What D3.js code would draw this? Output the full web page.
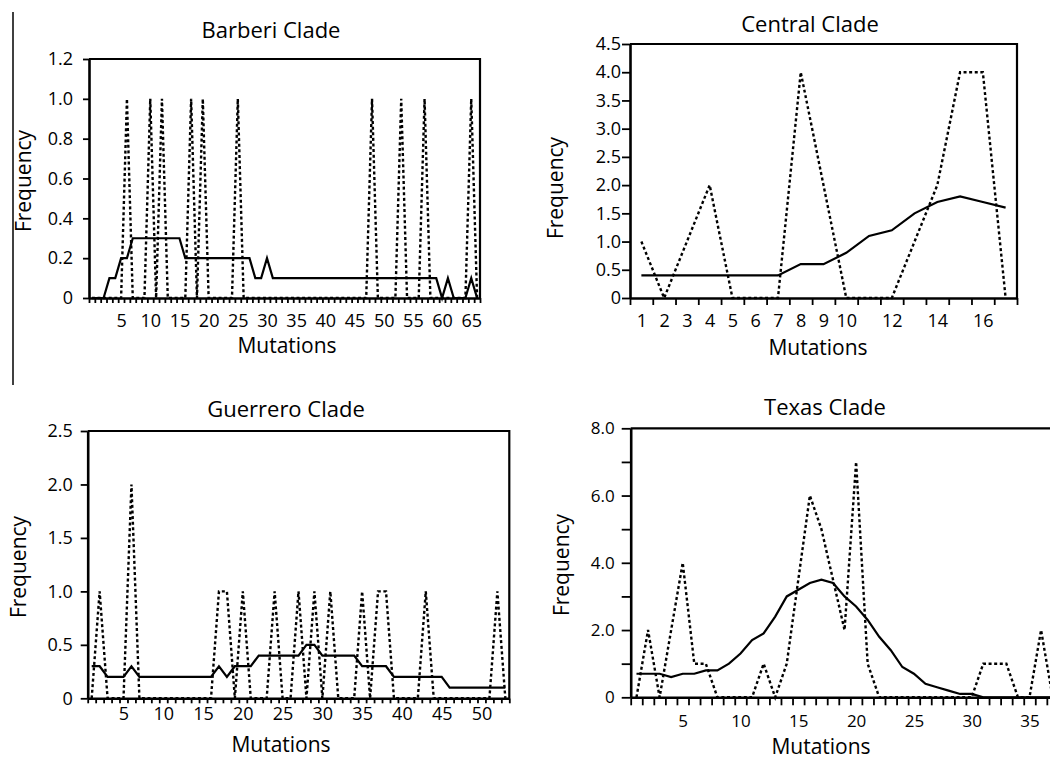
<!DOCTYPE html>
<html>
<head>
<meta charset="utf-8">
<title>Mutation frequency by clade</title>
<script src="https://cdnjs.cloudflare.com/ajax/libs/d3/7.8.5/d3.min.js"></script>
<style>
  body { margin: 0; background: #fff; }
  svg text { font-family: "Open Sans", sans-serif; fill: #000; }
</style>
</head>
<body>
<svg width="1050" height="761"></svg>
<script>

// ---- data (one value per mutation count, first category given separately) ----

// Barberi: mutations 0..66
const barberiFirst = 0;
const barberiObserved = [
  0, 0, 0, 0, 0, 0, 1, 0, 0, 0,
  1, 0, 1, 0, 0, 0, 0, 1, 0, 1,
  0, 0, 0, 0, 0, 1, 0, 0, 0, 0,
  0, 0, 0, 0, 0, 0, 0, 0, 0, 0,
  0, 0, 0, 0, 0, 0, 0, 0, 1, 0,
  0, 0, 0, 1, 0, 0, 0, 1, 0, 0,
  0, 0, 0, 0, 0, 1, 0
];
const barberiExpected = [
  0, 0, 0, 0.1, 0.1, 0.2, 0.2, 0.3, 0.3, 0.3,
  0.3, 0.3, 0.3, 0.3, 0.3, 0.3, 0.2, 0.2, 0.2, 0.2,
  0.2, 0.2, 0.2, 0.2, 0.2, 0.2, 0.2, 0.2, 0.1, 0.1,
  0.2, 0.1, 0.1, 0.1, 0.1, 0.1, 0.1, 0.1, 0.1, 0.1,
  0.1, 0.1, 0.1, 0.1, 0.1, 0.1, 0.1, 0.1, 0.1, 0.1,
  0.1, 0.1, 0.1, 0.1, 0.1, 0.1, 0.1, 0.1, 0.1, 0.1,
  0, 0.1, 0, 0, 0, 0.1, 0
];
const barberiXLabels = [5, 10, 15, 20, 25, 30, 35, 40, 45, 50, 55, 60, 65];
const barberiYTicks = [0, 0.2, 0.4, 0.6, 0.8, 1.0, 1.2];

// Central: mutations 1..17
const centralFirst = 1;
const centralObserved = [1, 0, 1, 2, 0, 0, 0, 4, 2, 0, 0, 0, 1, 2, 4, 4, 0];
const centralExpected = [0.4, 0.4, 0.4, 0.4, 0.4, 0.4, 0.4, 0.6, 0.6, 0.8, 1.1, 1.2, 1.5, 1.7, 1.8, 1.7, 1.6];
const centralXLabels = [1, 2, 3, 4, 5, 6, 7, 8, 9, 10, 12, 14, 16];
const centralYTicks = [0, 0.5, 1.0, 1.5, 2.0, 2.5, 3.0, 3.5, 4.0, 4.5];

// Guerrero: mutations 1..53
const guerreroFirst = 1;
const guerreroObserved = [
  0, 1, 0, 0, 0, 2, 0, 0, 0, 0,
  0, 0, 0, 0, 0, 0, 1, 1, 0, 1,
  0, 0, 0, 1, 0, 0, 1, 0, 1, 0,
  1, 0, 0, 0, 1, 0, 1, 1, 0, 0,
  0, 0, 1, 0, 0, 0, 0, 0, 0, 0,
  0, 1, 0
];
const guerreroExpected = [
  0.3, 0.3, 0.2, 0.2, 0.2, 0.3, 0.2, 0.2, 0.2, 0.2,
  0.2, 0.2, 0.2, 0.2, 0.2, 0.2, 0.3, 0.2, 0.3, 0.3,
  0.3, 0.4, 0.4, 0.4, 0.4, 0.4, 0.4, 0.5, 0.5, 0.4,
  0.4, 0.4, 0.4, 0.4, 0.3, 0.3, 0.3, 0.3, 0.2, 0.2,
  0.2, 0.2, 0.2, 0.2, 0.2, 0.1, 0.1, 0.1, 0.1, 0.1,
  0.1, 0.1, 0.1
];
const guerreroXLabels = [5, 10, 15, 20, 25, 30, 35, 40, 45, 50];
const guerreroYTicks = [0, 0.5, 1.0, 1.5, 2.0, 2.5];

// Texas: mutations 1..37 (picture is cut at the right edge)
const texasFirst = 1;
const texasObserved = [
  0, 2, 0, 2, 4, 1, 1, 0, 0, 0,
  0, 1, 0, 1, 3.5, 6, 5, 3.5, 2, 7,
  1, 0, 0, 0, 0, 0, 0, 0, 0, 0,
  1, 1, 1, 0, 0, 2, 0
];
const texasExpected = [
  0.7, 0.7, 0.7, 0.6, 0.7, 0.7, 0.8, 0.8, 1.0, 1.3,
  1.7, 1.9, 2.4, 3.0, 3.2, 3.4, 3.5, 3.4, 3.0, 2.7,
  2.3, 1.8, 1.4, 0.9, 0.7, 0.4, 0.3, 0.2, 0.1, 0.1,
  0, 0, 0, 0, 0, 0, 0
];
const texasXLabels = [5, 10, 15, 20, 25, 30, 35];
const texasYTicks = [0, 1, 2, 3, 4, 5, 6, 7, 8];

// ---- drawing ----

let svg = d3.select('svg');

// stray rule in the left margin of the scan
svg.append('line')
  .attr('x1', 13).attr('x2', 13).attr('y1', 12).attr('y2', 385)
  .attr('stroke', '#000').attr('stroke-width', 1.5);

let oneDec = d => d === 0 ? '0' : d.toFixed(1);

let drawPanel = (p) => {
  let n = p.observed.length;
  let x = d3.scaleLinear()
    .domain([p.first - 0.5, p.first + n - 0.5])
    .range([p.left, p.right]);
  let y = d3.scaleLinear().domain([0, p.yMax]).range([p.bottom, p.top]);

  let g = svg.append('g');

  // frame (top + right)
  g.append('path')
    .attr('d', 'M' + p.left + ',' + p.top + 'H' + p.right + 'V' + p.bottom)
    .attr('fill', 'none').attr('stroke', '#000').attr('stroke-width', 2.2);

  let line = d3.line()
    .x((d, i) => x(p.first + i))
    .y(d => y(d));

  g.append('path').datum(p.observed)
    .attr('d', line)
    .attr('fill', 'none').attr('stroke', '#000')
    .attr('stroke-width', 2.4).attr('stroke-dasharray', '3,2.6');

  g.append('path').datum(p.expected)
    .attr('d', line)
    .attr('fill', 'none').attr('stroke', '#000')
    .attr('stroke-width', 2.2).attr('stroke-linejoin', 'miter');

  // x axis: a tick between every category
  let bounds = d3.range(n + 1).map(i => p.first - 0.5 + i);
  let xa = g.append('g').attr('transform', 'translate(0,' + p.bottom + ')')
    .call(d3.axisBottom(x).tickValues(bounds).tickFormat('').tickSize(p.xTick).tickSizeOuter(0));
  xa.select('.domain').attr('stroke-width', 2.6);
  xa.selectAll('.tick line').attr('stroke-width', 1.8);

  let xl = g.append('g').attr('transform', 'translate(0,' + p.bottom + ')')
    .call(d3.axisBottom(x).tickValues(p.xLabels).tickSize(0).tickPadding(p.xPad));
  xl.select('.domain').remove();
  xl.attr('font-family', null).attr('font-size', p.tickFont);

  // y axis
  let ya = g.append('g').attr('transform', 'translate(' + p.left + ',0)')
    .call(d3.axisLeft(y).tickValues(p.yTicks).tickFormat(p.yFmt)
      .tickSize(p.yTick).tickSizeOuter(0).tickPadding(p.yPad));
  ya.select('.domain').attr('stroke-width', 2.6);
  ya.selectAll('.tick line').attr('stroke-width', 1.8);
  ya.attr('font-family', null).attr('font-size', p.tickFont);

  // titles
  g.append('text')
    .attr('x', p.titleX).attr('y', p.titleY)
    .attr('text-anchor', 'middle').attr('font-size', 22)
    .text(p.title);

  g.append('text')
    .attr('x', p.mutX).attr('y', p.mutY)
    .attr('text-anchor', 'middle').attr('font-size', 21)
    .text('Mutations');

  g.append('text')
    .attr('transform', 'translate(' + p.freqX + ',' + p.freqY + ') rotate(-90)')
    .attr('text-anchor', 'middle').attr('font-size', 21)
    .text('Frequency');
};

drawPanel({
  title: 'Barberi Clade', first: barberiFirst,
  observed: barberiObserved, expected: barberiExpected,
  xLabels: barberiXLabels, yTicks: barberiYTicks, yMax: 1.2, yFmt: oneDec,
  left: 89, right: 480, top: 59, bottom: 298,
  xTick: 5, xPad: 16, yTick: 6, yPad: 10, tickFont: 18,
  titleX: 271, titleY: 38, mutX: 287, mutY: 353, freqX: 31, freqY: 181
});

drawPanel({
  title: 'Central Clade', first: centralFirst,
  observed: centralObserved, expected: centralExpected,
  xLabels: centralXLabels, yTicks: centralYTicks, yMax: 4.5, yFmt: oneDec,
  left: 630, right: 1017, top: 44, bottom: 298,
  xTick: 7, xPad: 16, yTick: 8, yPad: 1, tickFont: 18,
  titleX: 810, titleY: 32, mutX: 818, mutY: 355, freqX: 563, freqY: 188
});

drawPanel({
  title: 'Guerrero Clade', first: guerreroFirst,
  observed: guerreroObserved, expected: guerreroExpected,
  xLabels: guerreroXLabels, yTicks: guerreroYTicks, yMax: 2.5, yFmt: oneDec,
  left: 87.7, right: 509.3, top: 431, bottom: 698.3,
  xTick: 5, xPad: 9, yTick: 7, yPad: 8, tickFont: 18,
  titleX: 286, titleY: 417, mutX: 281, mutY: 752, freqX: 26, freqY: 567
});

drawPanel({
  title: 'Texas Clade', first: texasFirst,
  observed: texasObserved, expected: texasExpected,
  xLabels: texasXLabels, yTicks: texasYTicks, yMax: 8,
  yFmt: d => d === 0 ? '0' : (d % 2 === 0 ? d.toFixed(1) : ''),
  left: 630.7, right: 1058.4, top: 428.3, bottom: 697.3,
  xTick: 8, xPad: 18, yTick: 9, yPad: 7, tickFont: 17,
  titleX: 825, titleY: 415, mutX: 821, mutY: 754, freqX: 569, freqY: 565
});

</script>
</body>
</html>
